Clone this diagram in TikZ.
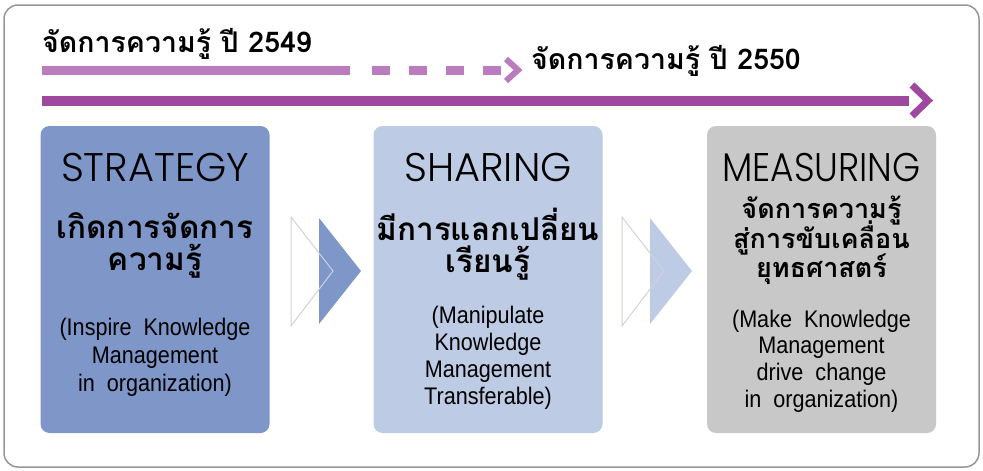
\documentclass[tikz,border=0pt]{standalone}
\usepackage{fontspec}
\setmainfont{Liberation Sans}
\newfontfamily\thaifont[Script=Thai]{Loma}
\IfFontExistsTF{Poppins Light}
  {\newfontfamily\headfont{Poppins Light}\newfontfamily\headnarrow[FakeStretch=0.9]{Poppins Light}}
  {\newfontfamily\headfont{Poppins}\newfontfamily\headnarrow[FakeStretch=0.9]{Poppins}}
\newfontfamily\engfont[FakeStretch=0.9,WordSpace=2]{Liberation Sans}
\definecolor{boxA}{RGB}{126,150,200}
\definecolor{boxB}{RGB}{190,203,228}
\definecolor{boxC}{RGB}{200,200,200}
\definecolor{lightpurple}{RGB}{186,124,190}
\definecolor{darkpurple}{RGB}{158,72,160}
\definecolor{frame}{RGB}{150,150,150}
\definecolor{triline}{RGB}{208,210,218}
\begin{document}
\begin{tikzpicture}[x=1pt,y=-1pt,
  panel/.style={rounded corners=9pt, minimum width=229pt, minimum height=307pt, inner sep=0pt, draw=none},
  headtxt/.style={font=\headfont\fontsize{40}{40}\selectfont, anchor=base, inner sep=0pt},
  headnar/.style={font=\headnarrow\fontsize{40}{40}\selectfont, anchor=base, inner sep=0pt},
  thaitxt/.style={font=\thaifont\bfseries\fontsize{31.5}{31.5}\selectfont, anchor=base, inner sep=0pt},
  thaismall/.style={font=\thaifont\bfseries\fontsize{27}{27}\selectfont, anchor=base, inner sep=0pt},
  entxt/.style={font=\engfont\fontsize{24}{24}\selectfont, anchor=base, inner sep=0pt},
  titletxt/.style={font=\thaifont\bfseries\fontsize{28.5}{28.5}\selectfont, anchor=base west, inner sep=0pt},
  tri/.style={draw=triline, line width=1pt, line join=miter},
]
\useasboundingbox (0,0) rectangle (983,471);
% outer frame
\draw[frame, line width=1.5pt, rounded corners=14pt] (4,5) rectangle (979,467);

% timeline titles
\node[titletxt] (t1) at (42,52) {จัดการความรู้ ปี 2549};
\node[titletxt] (t2) at (531,69) {จัดการความรู้ ปี 2550};

% light (2549) bar
\coordinate (l0) at (42,70);
\coordinate (l1) at (350,70);
\draw[lightpurple, line width=9pt] (l0) -- (l1);
\foreach \x in {372,409,446,483}
  \draw[lightpurple, line width=9pt] (\x,70) -- ++(18,0);
\draw[lightpurple, line width=6pt, line join=miter] (506,59) -- (518,70) -- (506,81);

% dark (2550) bar
\coordinate (d0) at (42,100.5);
\coordinate (d1) at (909,100.5);
\draw[darkpurple, line width=10pt] (d0) -- (d1);
\draw[darkpurple, line width=7pt, line join=miter] (912,85) -- (928,100.5) -- (912,116);

% panels
\node[panel, fill=boxA] (p1) at (155,279.5) {};
\node[panel, fill=boxB] (p2) at (488,279.5) {};
\node[panel, fill=boxC] (p3) at (821.5,279.5) {};

% chevrons between panels
\fill[boxA] (319,218) -- (361,271) -- (319,324) -- cycle;
\draw[tri] (291,217) -- (333,271) -- (291,326) -- cycle;
\fill[boxB] (650,218) -- (692,271) -- (650,324) -- cycle;
\draw[tri] (622,217) -- (664,271) -- (622,326) -- cycle;

% panel 1 text
\node[headtxt] (h1) at (155,181) {STRATEGY};
\node[thaitxt] (a1) at (155,238) {เกิดการจัดการ};
\node[thaitxt] (a2) at (155,270) {ความรู้};
\node[entxt] (e11) at (155,335) {(Inspire Knowledge};
\node[entxt] (e12) at (155,363) {Management};
\node[entxt] (e13) at (155,391) {in organization)};

% panel 2 text
\node[headtxt] (h2) at (488,181) {SHARING};
\node[thaitxt] (b1) at (488,240) {มีการแลกเปลี่ยน};
\node[thaitxt] (b2) at (488,272) {เรียนรู้};
\node[entxt] (e21) at (488,323) {(Manipulate};
\node[entxt] (e22) at (488,350) {Knowledge};
\node[entxt] (e23) at (488,377) {Management};
\node[entxt] (e24) at (488,404) {Transferable)};

% panel 3 text
\node[headnar] (h3) at (821.5,181) {MEASURING};
\node[thaismall] (c1) at (821.5,218) {จัดการความรู้};
\node[thaismall] (c2) at (821.5,248) {สู่การขับเคลื่อน};
\node[thaismall] (c3) at (821.5,277) {ยุทธศาสตร์};
\node[entxt] (e31) at (821.5,327) {(Make Knowledge};
\node[entxt] (e32) at (821.5,353) {Management};
\node[entxt] (e33) at (821.5,380) {drive change};
\node[entxt] (e34) at (821.5,407) {in organization)};
\end{tikzpicture}
\end{document}
